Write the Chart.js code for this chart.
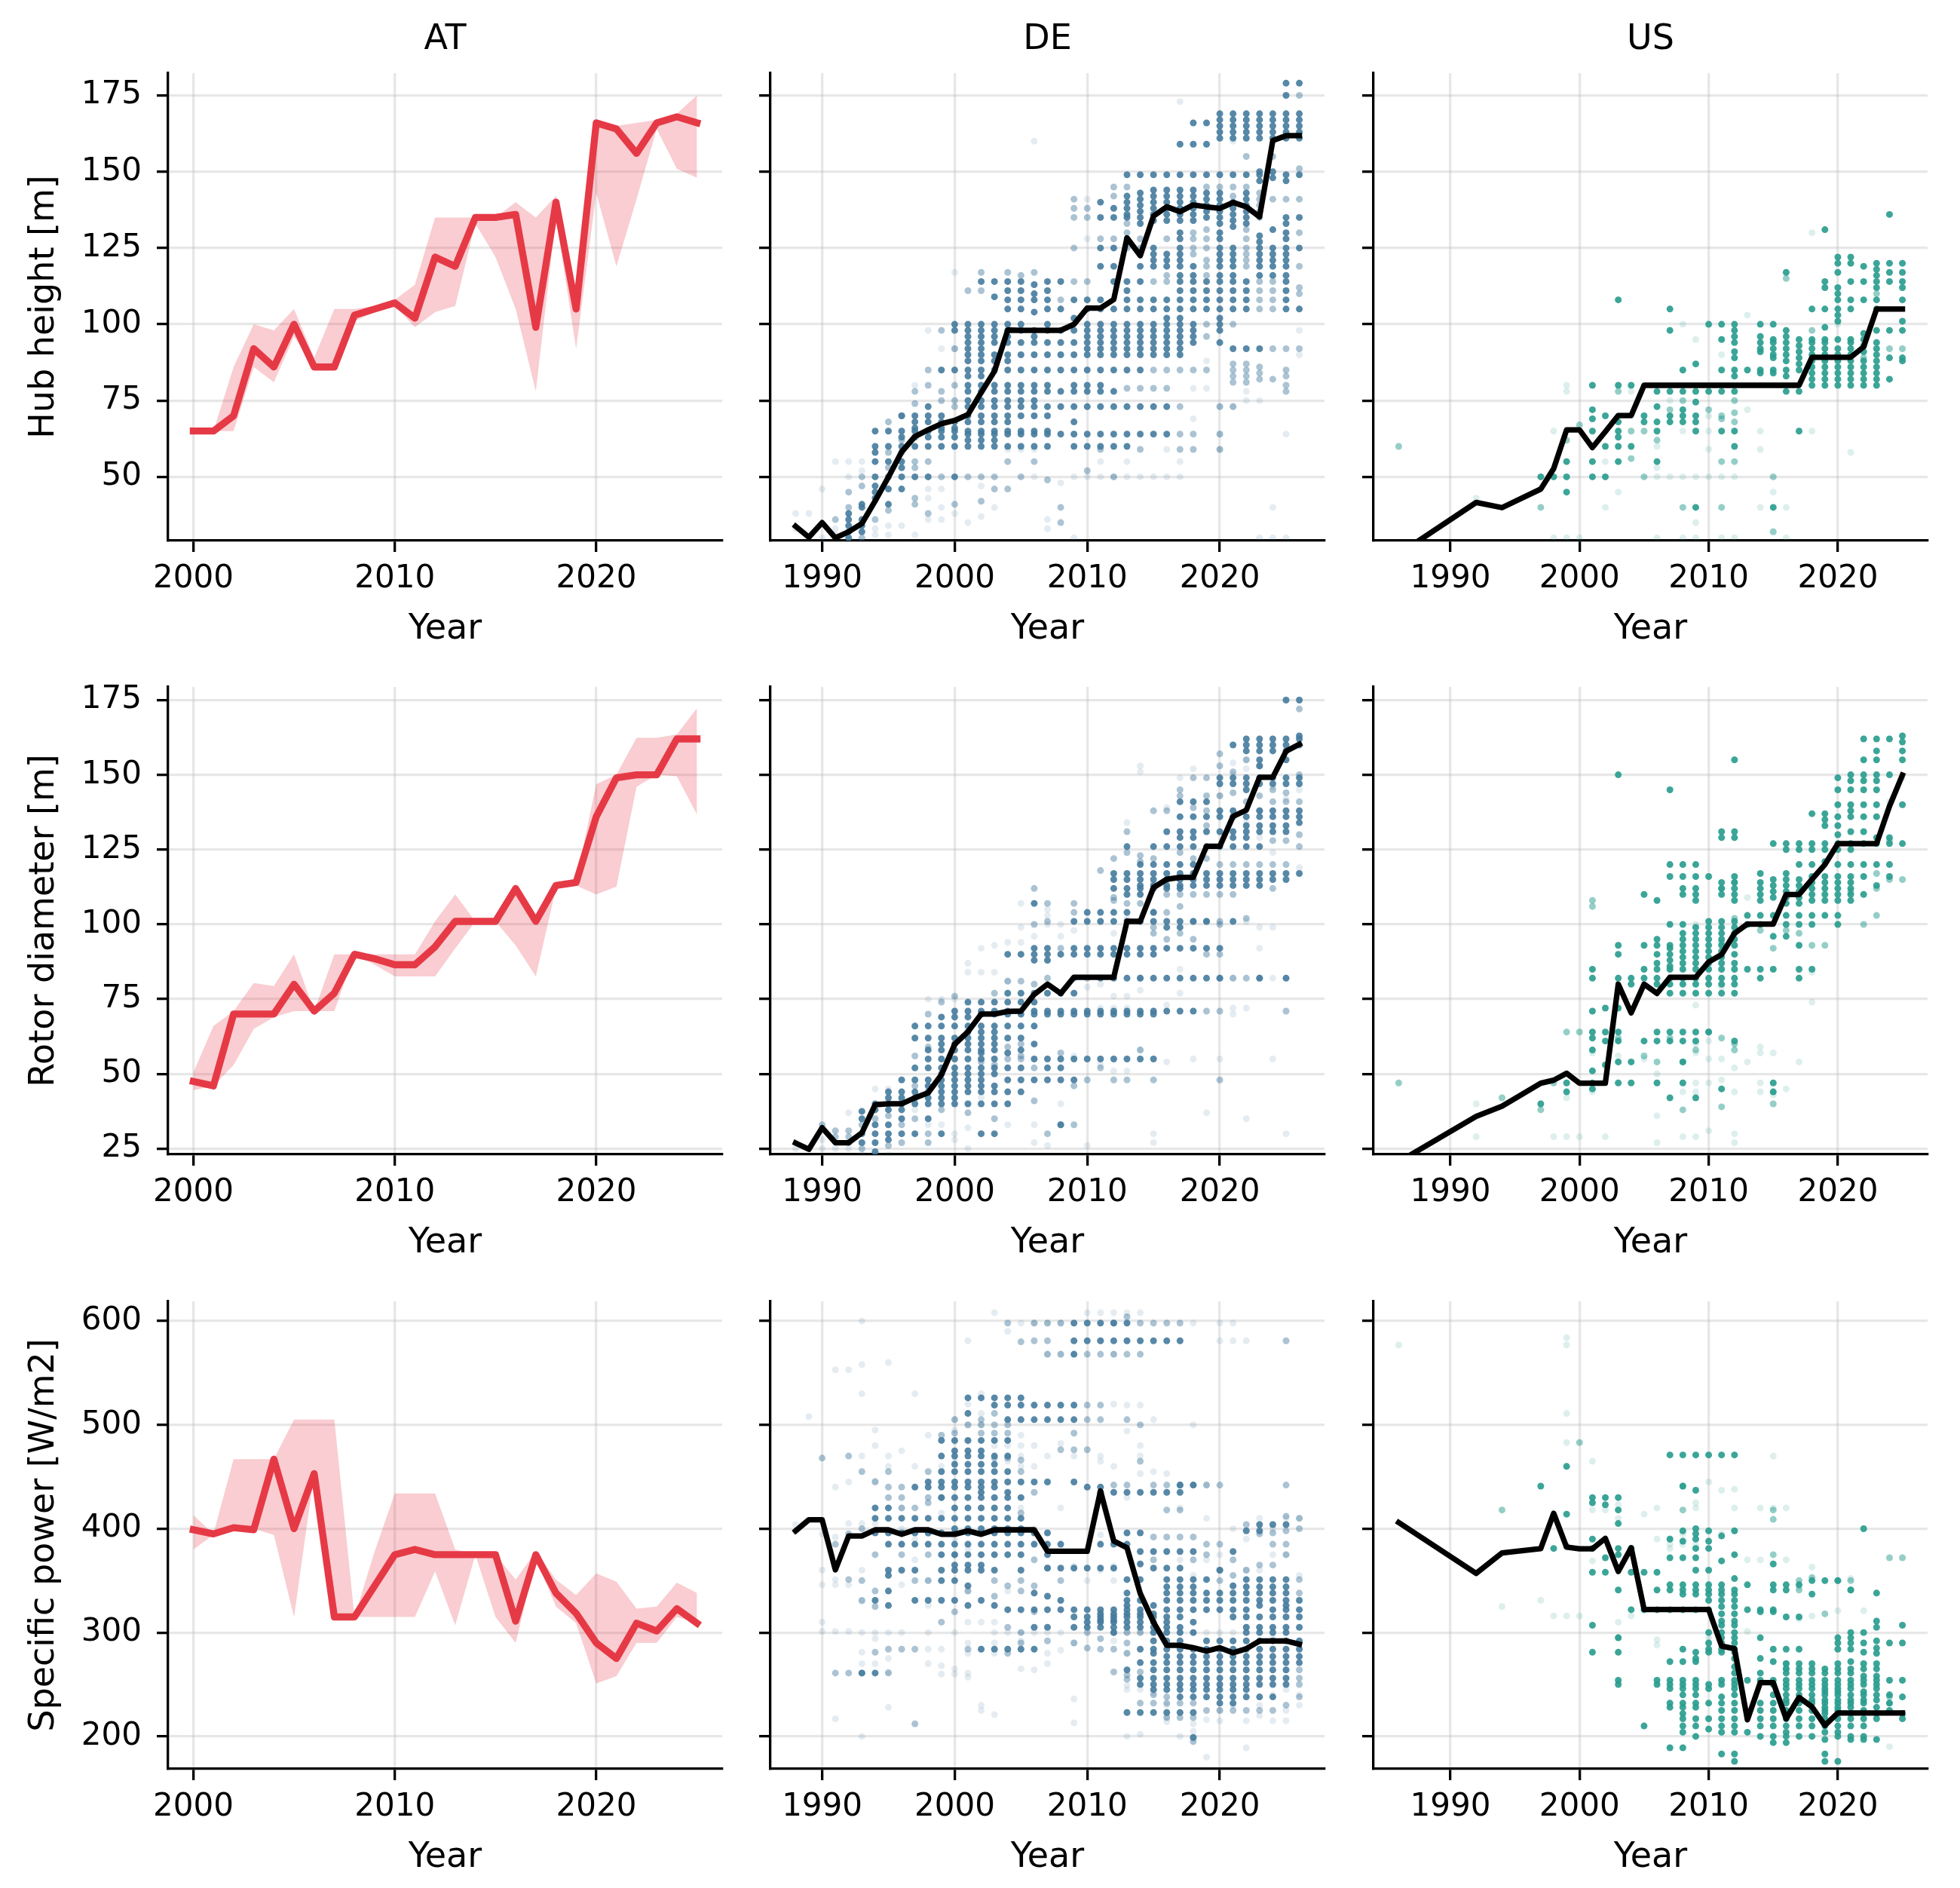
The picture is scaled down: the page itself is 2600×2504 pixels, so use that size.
<!DOCTYPE html>
<html>
<head>
<meta charset="utf-8">
<script src="https://cdn.jsdelivr.net/npm/chart.js@4.4.1/dist/chart.umd.min.js"></script>
<style>
  body{margin:0;background:#fff;width:2600px;height:2504px;position:relative;overflow:hidden}
  canvas{position:absolute}
</style>
</head>
<body>
<canvas id="p00" width="1000" height="900" style="left:0px;top:0px"></canvas>
<canvas id="p01" width="1000" height="900" style="left:799px;top:0px"></canvas>
<canvas id="p02" width="1000" height="900" style="left:1599px;top:0px"></canvas>
<canvas id="p10" width="1000" height="900" style="left:0px;top:814px"></canvas>
<canvas id="p11" width="1000" height="900" style="left:799px;top:814px"></canvas>
<canvas id="p12" width="1000" height="900" style="left:1599px;top:814px"></canvas>
<canvas id="p20" width="1000" height="900" style="left:0px;top:1629px"></canvas>
<canvas id="p21" width="1000" height="900" style="left:799px;top:1629px"></canvas>
<canvas id="p22" width="1000" height="900" style="left:1599px;top:1629px"></canvas>
<script>
// ---- AT: median line + band
const atYears = [2000,2001,2002,2003,2004,2005,2006,2007,2008,2009,2010,2011,2012,2013,2014,2015,2016,2017,2018,2019,2020,2021,2022,2023,2024,2025]
const atHub   = [65,65,70,92,86,100,86,86,103,105,107,102,122,119,135,135,136,99,140,105,166,164,156,166,168,166]
const atHubLo = [65,65,65,86,81,96,86,86,101,104,106,99,104,106,133,122,105,78,135,92,143,119,141,164,151,148]
const atHubHi = [65,65,86,100,98,105,89,105,105,106,108,113,135,135,135,135,140,135,142,110,166,165,166,167,169,175]
const atRotor   = [47.5,46,70,70,70,80,71,77,90,88.5,86.5,86.5,92.5,101,101,101,112,101,113,114,136,149,150,150,162,162]
const atRotorLo = [44.5,46,53,65,69,71,71,71,90,86.5,82.6,82.6,82.6,92,101,101,93,82.6,112,113,110,112.6,146,150,149.5,136.7]
const atRotorHi = [50.4,66,71,80.4,79.4,90,71,90,90,90,90,90,101,110,101,101,112,101,113,114.7,146.9,150,162.4,162.4,163.5,172.3]
const atSp   = [399,395,401,399,467,400,453,315,315,345,375,380,375,375,375,375,311,375,338,318.5,290,275,309,301.5,323,309]
const atSpLo = [380,394,400,400,394,315,453,315,315,315,315,315,359,307,375,315,290,371,325,309,251,258,290,290,315,309]
const atSpHi = [413,395,467,467,467,505,505,505,315,378,434,434,434,380,375,375,351,378,351,336,357,349,323,325,348,338]

// ---- DE / US medians
const deYears = [1988,1989,1990,1991,1992,1993,1994,1995,1996,1997,1998,1999,2000,2001,2002,2003,2004,2005,2006,2007,2008,2009,2010,2011,2012,2013,2014,2015,2016,2017,2018,2019,2020,2021,2022,2023,2024,2025,2026]
const deHubMedian = [33.8,30.2,35,30,32,34.7,42.1,49.9,58.2,63.2,65.4,67.4,68.5,70.4,77.6,84.6,98.1,98,98,98,98,100,105.3,105.3,108.1,128.3,122.5,135.5,138.5,136.9,139.1,138.5,138,139.9,138.5,135.2,160.2,161.8,161.8]
const deRotorMedian = [26.9,24.8,32,27,27,30.3,39.7,40,40,42,43.7,49.7,59.9,64.1,70,70,70.9,71,76.6,80,76.9,82.3,82.3,82.3,82.3,101,101,112.3,115.1,115.7,115.7,126.1,126.1,136.1,138.2,149.2,149.2,157.9,160.2]
const deSpMedian = [397.9,408.6,408.6,360.4,393,393,398.9,398.9,394.6,398.9,398.9,394.6,394.6,397.9,394.6,398.9,398.9,398.9,398.9,378.3,378.3,378.3,378.3,436.3,388.1,381.6,337.6,309.9,287.7,287.7,285.4,282.2,285.4,280.5,284.4,291.9,291.9,291.9,288.7]
const usYears = [1986,1992,1994,1997,1998,1999,2000,2001,2002,2003,2004,2005,2006,2007,2008,2009,2010,2011,2012,2013,2014,2015,2016,2017,2018,2019,2020,2021,2022,2023,2024,2025]
const usHubMedian = [24.7,41.6,39.9,46,52.7,65.4,65.4,59.6,64.8,70.1,70.1,80,80,80,80,80,80,80,80,80,80,80,80,80,89.2,89.2,89.2,89.2,92.6,105,105,105]
const usRotorMedian = [20.6,35.8,39.2,46.9,47.9,50.2,46.9,46.9,46.9,80,70.4,80,76.9,82.3,82.3,82.3,87.4,89.9,97,100.1,100.1,100.1,110,110,115.1,120,127,127,127,127,139.5,149.9]
const usSpMedian = [406,357,376.7,380.9,414.8,382.2,380.6,380.6,390.7,358.8,381.6,322.2,322.2,322.2,322.2,322.2,322.2,287,284.4,216,251.8,251.8,217,237.5,228.4,210.5,222.5,222.5,222.5,222.5,222.5,222.5]

// ---- DE turbines: [year, values], split by how dense the dots look
const deHubDark = [
  [1992,[38,36,34,32,30]],[1993,[41,40,36,34,32]],[1994,[65,60,58,55,50,47,45,43]],[1995,[65,60,55,50,46,41]],
  [1996,[70,65,63,60,55,53,50,46]],[1997,[70,68,66,65,63,60,50]],[1998,[73,70,68,65,63,60,50]],[1999,[85,70,68,66,65,63,60]],
  [2000,[100,98,85,68,66,65,63,60,50]],
  [2001,[100,98,96,94,92,90,88,85,83,80,78,75,73,70,68,65,64,62,60]],
  [2002,[114,100,98,96,94,92,90,88,85,83,80,78,75,73,70,68,65,64,62,60]],
  [2003,[114,109,100,98,96,94,90,88,85,80,78,75,73,70,68,65,64,62,60]],
  [2004,[114,111,108,105,100,98,96,94,90,88,85,80,78,75,73,70,68,65,64,60]],
  [2005,[114,111,108,105,100,98,94,90,85,80,78,75,73,70,65,64,60]],
  [2006,[113,110,108,104,98,96,94,90,85,80,78,75,73,70,65,64,60]],
  [2007,[114,111,108,105,100,98,94,90,85,80,78,73,70,65,64,60]],
  [2008,[114,105,98,94,90,85,78,73,64]],
  [2009,[108,102,98,94,90,85,80,78,73,68,64,60]],
  [2010,[108,105,100,98,96,94,92,90,85,80,78,73,64,60]],
  [2011,[140,135,125,119,108,105,100,98,96,94,92,90,85,80,78,73,64,60]],
  [2012,[138,135,125,119,114,105,100,98,96,94,92,90,85,78,73,64,60]],
  [2013,[149,142,140,138,136,135,114,111,108,105,100,98,96,94,92,90,85,73,64,60]],
  [2014,[149,143,141,139,137,135,133,119,114,108,105,100,98,96,94,92,90,85,73,64]],
  [2015,[149,144,142,140,138,136,134,125,123,121,119,108,105,100,98,96,94,92,90,73,64]],
  [2016,[149,144,142,140,138,136,134,123,121,119,108,105,102,100,98,96,94,92,90,73,64]],
  [2017,[159,149,144,142,140,138,136,134,130,128,125,123,121,119,116,114,111,108,105,102,100,98,96,94,92,90]],
  [2018,[166,159,149,144,142,140,138,136,134,119,116,114,111,108,105,100,98,96,94]],
  [2019,[166,159,149,143,141,139,137,135,114,111,108,105]],
  [2020,[169,167,165,163,161,149,143,141,139,137,135,133,130,128,125,123,121,119,116,114,111,108,105,102,100,98,94]],
  [2021,[169,167,165,163,161,149,140,138,136,134,132,125,123,121,119,116,114,111,108,105,92]],
  [2022,[169,167,165,163,161,149,143,141,139,137,135,133,114,111,108,105,92]],
  [2023,[169,167,165,163,161,150,149,147,129,127,125,123,121,119,116,92]],
  [2024,[169,167,165,163,161,150,148,131,125,123,121,119,116]],
  [2025,[179,175,169,167,165,163,161,149,147,135,133,130,128,125,123,121,119,116,114,111,108,105]],
  [2026,[179,169,167,165,163,161,149,135,125,105]]
]
const deHubMid = [
  [1991,[36]],[1992,[40,45]],[1993,[50,47,30]],[1994,[36]],[1995,[68,58,53,39]],[1996,[70,58,62]],
  [1997,[78,74,55,53,43,41]],[1998,[85,80,55,38]],[1999,[98,78,75,50]],[2000,[92,80,75,73,41]],
  [2001,[111,50]],[2002,[117,111,50,42]],[2003,[50,46]],[2004,[117,55,46]],[2005,[116,50]],[2006,[117,55]],
  [2007,[49]],[2008,[108,40,35]],[2009,[141,138,135,125,114]],[2010,[138,135,114,52]],[2011,[128,59]],
  [2012,[145,142,128,50]],[2013,[145,133,130,128,125,79]],[2014,[128,125,123,79,59]],[2015,[114,85,79]],
  [2016,[128,116,114,85,79]],[2017,[85,73,64,59]],[2018,[130,128,125,123,85,64,59]],
  [2019,[145,131,128,125,121,119,116,100,96,85]],[2020,[145,73,64,59]],[2021,[145,142,100,87,85,83,81,73]],
  [2022,[155,145,131,128,125,123,121,119,87,85,83,81]],[2023,[143,141,139,137,135,114,111,108,105,86,84,82]],
  [2024,[155,141,114,111,108,105,92,82]],[2025,[141,92,85,83,80,78]],[2026,[175,151,141,130,119,112,110,92]]
]
const deHubFaint = [
  [1988,[38,33]],[1989,[38,30]],[1990,[46,30]],[1991,[55,33,31]],[1992,[55,50]],[1993,[55,52]],[1994,[33,31]],
  [1995,[34,31]],[1996,[34]],[1997,[80,31]],[1998,[98,46,43,36]],[1999,[92,46,40,36]],[2000,[117,92,38]],
  [2001,[35]],[2002,[47,37]],[2003,[40]],[2004,[59]],[2005,[59]],[2006,[160,59,50]],[2007,[36,33]],[2008,[48]],
  [2009,[50,30]],[2010,[141,128,50]],[2011,[55,50]],[2012,[50]],[2013,[55,50]],[2014,[50]],[2015,[50]],
  [2016,[59,50]],[2017,[173,55,50]],[2018,[79,69]],[2019,[88,79]],[2020,[73,64,59]],[2021,[160,73]],
  [2022,[78,75]],[2023,[75,30]],[2024,[40,30]],[2025,[64,30]],[2026,[98,90]]
]

const deRotorDark = [
  [1993,[37.5,35,30,27]],[1994,[40,38,33,30,27,24]],[1995,[44,42,40,38,33,30,28]],[1996,[48,44,42,40,38,35,30]],
  [1997,[66,62,52,48,44,42,40,30]],[1998,[66,62,58,55,52,48,46,44,42,40,35]],
  [1999,[69,66,62,60,58,55,52,50,48,46,44,42,40,30]],[2000,[71,69,66,62,60,58,55,52,50,48,46,44,42,40]],
  [2001,[74,71,69,66,64,62,60,58,55,52,50,48,46,44,40]],[2002,[74,71,70,66,64,62,60,58,57,55,52,50,48,46,44,40,30]],
  [2003,[74,71,70,66,64,62,60,58,55,52,50,46,44,40,30]],[2004,[90,77,74,71,70,66,62,57,52,48,44,40]],
  [2005,[90,77,74,70,66,62,58,52,48,44]],[2006,[107,92,90,88,77,74,71,70,66,60,55,48]],
  [2007,[92,90,88,77,71,70,55,52,48]],[2008,[90,77,71,70,55,52,48,33]],[2009,[101,92,90,77,71,70,55,48]],
  [2010,[104,101,92,90,71,70,55]],[2011,[104,101,92,90,82,71,70,55]],[2012,[117,115,112,104,101,92,90,82,71,70,55]],
  [2013,[126,117,115,112,110,104,101,92,90,82,71,70,55]],[2014,[120,117,115,113,112,110,101,92,90,82,71,70,55]],
  [2015,[126,120,117,115,113,112,104,101,92,90,82,71,70,55]],[2016,[131,126,120,117,115,113,112,101,99,92,82,71]],
  [2017,[141,136,131,129,126,120,117,115,113,112,101,99,92,82,71]],[2018,[141,136,131,129,126,120,117,115,113,101,92,82,71]],
  [2019,[141,136,131,126,117,115,113,101,92,82]],[2020,[149,147,138,136,131,126,117,115,113,92,82]],
  [2021,[160,149,147,138,136,131,129,126,117,115,113,101]],[2022,[162,160,158,149,147,145,136,133,131,129,126,117,115,113]],
  [2023,[162,160,158,155,153,149,147,138,136,133,131,126,117,115,113,82]],[2024,[162,160,158,149,147,138,136,133,131,117,115]],
  [2025,[175,162,160,158,155,149,147,138,136,133,131,117,115,82]],[2026,[175,163,162,160,149,147,138,136,134,117]]
]
const deRotorMid = [
  [1990,[33]],[1991,[31,29]],[1992,[31,29,27]],[1993,[33,25]],[1994,[35]],[1995,[36,26]],[1996,[33,27]],
  [1997,[56,46,35]],[1998,[70,59,30,27]],[1999,[74,38]],[2000,[76]],[2001,[37]],[2002,[54]],[2003,[77,53,35]],
  [2004,[81,59,55]],[2005,[81,60,56,55]],[2006,[112,100,80,52,41]],[2007,[107,101,82,30]],[2008,[92,57,33]],
  [2009,[107,104,82,46,33]],[2010,[82,48]],[2011,[118,52]],[2012,[122,109,108,48]],[2013,[131,124,107,48]],
  [2014,[123,121,107,82,58]],[2015,[138,122,104,99,97,48]],[2016,[138,110,104,95]],[2017,[145,143,124,110,106,97]],
  [2018,[149,139,122,110,101,95]],[2019,[149,143,138,133,122,110,101,90,71]],[2020,[157,153,143,120,110,101,100,90,82,71,48]],
  [2021,[151,144,120,110,82]],[2022,[155,141,120,102,82]],[2023,[153,143,138,120,82]],[2024,[145,141,128,120,112]],
  [2025,[144,141,128,120,71]],[2026,[172,150,141,130,126]]
]
const deRotorFaint = [
  [1988,[27,25]],[1989,[25]],[1990,[28,25]],[1991,[25]],[1992,[37,25]],[1993,[23]],[1994,[45,23]],[1995,[45,23]],
  [1996,[41]],[1997,[38]],[1998,[75,33]],[1999,[75,45,33]],[2000,[75,30,28]],[2001,[87,84,32,25]],[2002,[92,84,42]],
  [2003,[93,84]],[2004,[94,81,33]],[2005,[107,99,94]],[2006,[96,33,27]],[2007,[105,103,100,88,26]],[2008,[100,96,40]],
  [2009,[98,56]],[2010,[79,26]],[2011,[101,80,72,53]],[2012,[97,76,72,51]],[2013,[134,102,76,72,51]],
  [2014,[153,151,78,58]],[2015,[114,71,30,27]],[2016,[139,73,54]],[2017,[149,85,77]],[2018,[152,55]],[2019,[101,37]],
  [2020,[143,55]],[2021,[154,150,82,72,70]],[2022,[155,152,134,101,72,35]],[2023,[129,99,92]],
  [2024,[146,124,99,82,55]],[2025,[142,82,30]],[2026,[145,119]]
]

const deSpDark = [
  [1993,[261]],[1994,[420,410,396,331,261]],[1995,[420,410,396,385,360,355,340,326]],[1996,[410,396,385,360]],
  [1997,[440,410,396,385,360,331]],[1998,[445,440,410,396,385,331]],
  [1999,[485,470,455,445,440,430,410,396,385,375,360,350,331]],
  [2000,[485,475,470,462,455,445,440,430,420,410,400,396,385,375,365,360,350,331]],
  [2001,[526,511,485,475,470,462,455,445,440,430,420,410,400,396,385,375,365,360,345,326]],
  [2002,[526,485,475,470,462,455,445,440,435,430,420,410,400,396,385,375,365,360,331,284]],
  [2003,[526,519,485,470,462,455,445,440,430,420,410,400,396,385,375,360,326,284]],
  [2004,[526,519,505,485,470,455,445,435,430,420,410,400,396,385,375,322,284]],
  [2005,[526,519,505,445,430,410,400,396,385,375,360,322,284]],
  [2006,[519,505,445,396,385,338,322,305,284]],[2007,[519,505,445,396,385,375,362,335,322,305]],
  [2008,[519,505,385,362,331,322]],[2009,[598,581,568,519,505,445,362,322,315,305]],
  [2010,[598,581,440,362,322,315,310,305]],[2011,[598,581,440,435,385,362,322,318,315,312,310,305]],
  [2012,[598,581,435,385,362,322,318,315,312,310,305,300]],
  [2013,[598,581,435,396,385,351,338,331,326,322,318,315,310,305,264,223]],
  [2014,[581,435,396,378,366,351,331,322,318,315,310,305,284,271,256,250,223]],
  [2015,[581,435,378,362,326,318,315,310,305,300,292,284,280,271,264,256,250,245,223]],
  [2016,[581,435,378,362,351,344,338,331,322,315,310,305,300,292,284,277,271,264,256,250,245,223]],
  [2017,[581,442,435,378,362,351,344,338,331,322,315,305,300,292,284,277,271,264,256,250,245,238,223]],
  [2018,[442,378,351,344,338,331,322,310,300,284,277,271,264,256,250,245,238,223,199]],
  [2019,[351,338,331,322,292,284,277,271,264,256,250,245,238]],
  [2020,[360,338,331,322,292,284,277,271,264,256,250,245,238,232]],
  [2021,[378,345,338,331,322,315,292,284,277,271,264,256,250,245,238,232]],
  [2022,[398,351,344,338,331,322,315,305,300,292,284,277,271,264,256,250,245,238]],
  [2023,[404,398,351,344,338,331,326,315,305,300,292,284,277,271,264,256,250,238]],
  [2024,[404,351,344,338,331,322,315,305,300,292,284,277,271,264,256,250,238]],
  [2025,[404,351,344,338,331,326,322,315,305,300,292,284,277,271,264,256,250]],
  [2026,[331,322,315,305,292,284,277,271]]
]
const deSpMid = [
  [1990,[468]],[1991,[385,261]],[1992,[470,395,351,261]],[1993,[455,400,350,331,261]],[1994,[445,375,340,325,281]],
  [1995,[455,440,430,284,261]],[1996,[440,430,420,375,284]],[1997,[420,350,284,212]],[1998,[455,430,425,375,350]],
  [1999,[490,430,310]],[2000,[505,492,375,320]],[2001,[500,340,284]],[2002,[505,500,492]],[2003,[511,500,492,468,350,335]],
  [2004,[598,500,492,468,345,305,280]],[2005,[580,466,455,415,350,340,300,290]],[2006,[598,581,435,370,345,320]],
  [2007,[598,581,568,362,292]],[2008,[598,568,476,350]],[2009,[492,476,290]],[2010,[568,519,505,476,300,285]],
  [2011,[568,519,505,294,284]],[2012,[598,568,442,300,284,262]],[2013,[604,568,505,442,300,290,280,259,255]],
  [2014,[598,568,500,465,300,262,232]],[2015,[598,442,392,370,240,232]],[2016,[598,442,418,392,238,232,218]],
  [2017,[598,442,418,392,232,218]],[2018,[442,392,370,232,218,195]],[2019,[442,385,375,225]],[2020,[442,385,360,350,225]],
  [2021,[370,355,225]],[2022,[404,360,225]],[2023,[395,365,225]],[2024,[396,385,365,225]],[2025,[581,442,412,398,385,375,230]],
  [2026,[410,400,351,338,264,256,250,238]]
]
const deSpFaint = [
  [1988,[404,398]],[1989,[508]],[1990,[395,360,346,310,301]],[1991,[553,440,392,351,346,301,217]],
  [1992,[553,445,405,346,301]],[1993,[600,558,530,470,405,360,330,300,281,270,200]],[1994,[495,480,446,405,300,294,270]],
  [1995,[560,470,460,300,275,262,228]],[1996,[475,420,400,385,346,300]],[1997,[530,460,390,370]],
  [1998,[490,395,350,326,300,284,270]],[1999,[460,415,284,268,260]],[2000,[505,495,484,465,420,390,300,265,260]],
  [2001,[581,520,500,484,380,340,310,290,280,261,257]],[2002,[530,511,500,420,310,230,225]],
  [2003,[608,480,420,310,300,290,280,221]],[2004,[590,505,480,465,340,300]],[2005,[598,505,490,480,470,460,420,300,292,265]],
  [2006,[598,480,460,400,300,264]],[2007,[598,568,470,380,300,280,270]],[2008,[598,568,482,420,300,283]],
  [2009,[568,470,364,290,236,213]],[2010,[608,350]],[2011,[608,581,470,465,394,360]],[2012,[608,568,520,460,364,350,292]],
  [2013,[608,581,519,494,430,300,280,249,245,200]],[2014,[608,519,480,470,453,300,245,202]],[2015,[505,455,300,242]],
  [2016,[453,300,230,219,214]],[2017,[442,420,370,300,200]],[2018,[598,500,355,300,212,205,198]],[2019,[442,410,370,300,216,180]],
  [2020,[598,581,375,300,225,215]],[2021,[598,581,400,345,300,230]],[2022,[581,390,360,305,215,189]],
  [2023,[410,360,305,230,220]],[2024,[400,375,295,240,215]],[2025,[410,375,245,225,215]],[2026,[410,355,240,230]]
]

// ---- US turbines
const usHubDark = [
  [1997,[50]],[1998,[50]],[1999,[55,50,45]],[2001,[80,72,69,65,55,50]],[2002,[70,60,50]],[2003,[108,80,68,65,63,60,55]],
  [2004,[80,60]],[2005,[70,68]],[2006,[78,73,68,65,55]],[2007,[105,98,78,70,68]],[2008,[85,78,72,70,68]],
  [2009,[87,78,74.5,70,68,65,40]],[2010,[100,78]],[2011,[100,95,85,78,65]],[2012,[100,98,96,94,91,89,85,83,78,65,60]],
  [2013,[85]],[2014,[100,96,94,92,91,85,84]],[2015,[100,95,94,92,90,89,85,84,40]],[2016,[117,98,96,94,92,90,88,85,83,78]],
  [2017,[95,93,91,89,87,85,78,65]],[2018,[105,95,94,92,90,88,86,84,82,80]],[2019,[131,114,112,105,99,95,94,92,90,88,86,84,82,80]],
  [2020,[122,120,117,112,110,108,105,103,101,95,92,90,88,86,84,82,80]],[2021,[122,120,114,108,105,95,94,92,90,88,86,84,82,80]],
  [2022,[119,114,108,97,95,93,91,88,86,84,82,80]],[2023,[120,118,116,114,112,108,105,98,94,92,90,88,86,84,82,80]],
  [2024,[136,120,117,114,98,89,82]],[2025,[120,117,114,112,108,101,98,89,88]]
]
const usHubMid = [
  [1986,[60]],[1997,[40]],[1999,[62]],[2000,[67]],[2003,[78]],[2004,[65,56]],[2005,[65,50]],[2006,[62]],[2007,[72]],
  [2008,[75,40]],[2010,[72]],[2011,[70,69,55,40]],[2012,[75,71,68,55]],[2015,[50,32]],[2016,[115]],[2018,[98]],
  [2022,[89]],[2023,[110]],[2024,[92]],[2025,[92]]
]
const usHubFaint = [
  [1992,[43]],[1998,[65,30]],[1999,[80,78,30]],[2000,[30]],[2002,[55,40]],[2003,[45]],[2004,[78]],[2006,[60,53,50,30]],
  [2007,[75,50]],[2008,[100,65,50,30]],[2009,[95,50,35,30]],[2010,[70,65,59,50]],[2011,[90,50,30]],[2012,[50,30]],
  [2013,[103,72]],[2014,[65,59,40]],[2015,[45]],[2016,[40,30]],[2018,[130,65]],[2020,[100]],[2021,[58]]
]

const usRotorDark = [
  [1997,[40]],[1999,[47,44]],[2001,[85,82,71,64,62,58,51,47,45]],[2002,[72,64,61,53]],[2003,[150,93,90,82,72,64,61,54,47]],
  [2004,[82,80,54,47]],[2005,[110,93,85,82,61]],[2006,[108,95,93,90,87,85,82,80,64,61,47]],
  [2007,[145,120,116,100,93,92,90,88,86,85,82,80,77,64,61,42]],
  [2008,[120,116,112,110,100,97,95,93,91,89,87,85,82,80,77,64,61,54,47]],
  [2009,[120,116,112,110,108,99,97,95,93,91,89,87,85,82,80,77,64,61,42]],
  [2010,[116,101,99,97,95,93,91,89,87,85,82,80,77,64]],
  [2011,[131,129,114,112,110,101,99,97,95,93,91,89,87,85,82,80,77,45]],
  [2012,[155,131,129,116,114,112,110,108,101,99,97,95,93,90,87,85,82,80,77,61]],
  [2013,[103,100,85]],[2014,[117,114,112,110,108,103,100,85,82]],[2015,[127,115,113,111,109,103,96,85,47,44]],
  [2016,[127,125,117,115,113,111,109,107,103,100,96]],[2017,[127,125,120,115,113,111,109,107,103,100,93,85,82]],
  [2018,[137,127,125,120,116,114,112,110,108,103,100,85]],[2019,[137,135,133,127,125,121,116,114,112,110,108,103]],
  [2020,[149,145,140,136,133,130,127,125,120,116,114,112,110,108,103,100]],
  [2021,[150,148,145,140,138,136,131,127,125,120,116,114,112,110,108]],
  [2022,[162,155,150,148,145,140,136,131,127,120,116,110]],[2023,[162,158,155,150,148,145,140,136,129,127,120,113]],
  [2024,[162,150,129,127,120,116]],[2025,[163,161,158,155,140,127]]
]
const usRotorMid = [
  [1986,[47]],[1994,[42]],[1997,[38]],[1998,[47]],[1999,[64]],[2000,[64]],[2001,[108,106]],[2003,[62]],[2005,[56]],
  [2006,[54]],[2007,[62]],[2008,[54,38]],[2009,[58]],[2010,[64]],[2011,[112,94,62,39]],[2012,[114,102,60,58]],
  [2014,[98]],[2015,[92,40]],[2016,[98]],[2017,[97]],[2018,[93]],[2019,[93]],[2021,[111]],[2022,[100]],
  [2023,[117,112,103]],[2024,[128,115]],[2025,[115]]
]
const usRotorFaint = [
  [1992,[40,29]],[1998,[29]],[1999,[42,29]],[2000,[29]],[2001,[57,44]],[2002,[29]],[2003,[56]],[2005,[55]],
  [2006,[50,36,27]],[2007,[85]],[2008,[44,29]],[2009,[100,73,60,57,47,44,29]],[2010,[61,55,47,31]],[2011,[79,55,48]],
  [2012,[52,44,30,27]],[2013,[109,54]],[2014,[59,57,47,44]],[2015,[57,44,43]],[2016,[45]],[2017,[54]],[2018,[84,74]],
  [2024,[141]],[2025,[149]]
]

const usSpDark = [
  [1997,[441]],[1998,[381]],[1999,[460,414,383]],[2001,[430,425,390,381,358,307,281]],[2002,[430,423,372,358]],
  [2003,[430,418,405,381,375,341,295,281,254,250]],[2004,[381,358,322]],[2005,[358,322,210]],[2006,[358,341,322,254,250]],
  [2007,[471,390,372,346,341,322,272,254,250,246,232,228,189]],
  [2008,[471,441,398,388,372,346,341,337,322,284,272,254,250,246,240,232,228,222,217,210,204,189]],
  [2009,[471,437,400,395,390,381,372,360,346,341,337,322,281,275,272,254,250,246,240,232,228,217,210,200]],
  [2010,[471,398,388,381,360,346,341,337,331,322,300,290,284,281,250,246,232,217,207]],
  [2011,[471,393,369,346,341,337,331,325,318,311,307,300,295,290,284,281,254,250,238,232,225,217,210,204,183]],
  [2012,[471,398,375,352,341,337,331,325,318,311,307,300,295,290,284,281,275,267,261,254,250,246,240,232,225,217,210,204,183,176]],
  [2013,[346,322,254,204]],[2014,[322,320,295,275,261,254,232,225,217,210,200]],
  [2015,[366,346,341,322,320,284,272,254,250,240,232,225,217,210,200,194]],
  [2016,[346,341,315,284,270,265,261,254,250,246,240,235,232,225,222,217,210,204,200,194]],
  [2017,[346,315,284,270,265,261,254,250,246,240,235,232,225,217,210,200]],
  [2018,[350,337,270,265,261,254,250,246,240,235,232,225,217,210,200]],
  [2019,[350,265,261,254,250,246,243,240,235,232,228,225,222,217,210,204,197,183,176]],
  [2020,[350,295,290,284,270,265,261,254,250,246,243,240,235,232,228,225,222,217,210,204,200,176]],
  [2021,[341,300,295,290,284,272,265,261,254,250,246,240,235,232,228,222,217,210,200,197]],
  [2022,[400,300,290,281,270,265,258,254,250,243,240,235,232,225,217,210,200,197]],
  [2023,[338,311,305,292,285,280,270,265,258,254,250,246,240,235,228,222,217,197]],
  [2024,[290,254,240,232,225]],[2025,[307,290,254,238,222,217]]
]
const usSpMid = [
  [1994,[418]],[2000,[483]],[2003,[295]],[2008,[441,418]],[2015,[418,409,375]],[2016,[270,265]],[2017,[350,341]],
  [2018,[353]],[2019,[318]],[2020,[350]],[2021,[350,341]],[2024,[372,238,232]],[2025,[372]]
]
const usSpFaint = [
  [1986,[577]],[1992,[357]],[1994,[325]],[1997,[331]],[1998,[316]],[1999,[584,577,511,483,316]],[2000,[316]],
  [2001,[465,418,369]],[2002,[418]],[2003,[423,410,375,310]],[2004,[316]],[2005,[414]],[2006,[420,390,293,288]],
  [2007,[390,385,381]],[2008,[395,385]],[2009,[425,420,384]],[2010,[445,295,289]],[2011,[437,395]],[2012,[438,420,398]],
  [2013,[370,301]],[2014,[420,370]],[2015,[470,420]],[2016,[420,370]],[2017,[344,313]],[2018,[363,316]],
  [2020,[321]],[2021,[352]],[2022,[321]],[2024,[190]]
]

// ---- axes
const atXRange = [1998.75, 2026.25], deXRange = [1986.1, 2027.9], usXRange = [1984.05, 2026.95]
const atXTicks = [2000, 2010, 2020], deXTicks = [1990, 2000, 2010, 2020]
const hubRange = [29.1, 182.3], rotorRange = [23.1, 179.4], spRange = [168.7, 618.9]
const hubTicks = [50, 75, 100, 125, 150, 175], rotorTicks = [25, 50, 75, 100, 125, 150, 175], spTicks = [200, 300, 400, 500, 600]
const countries = ['AT', 'DE', 'US']
const rowLabels = ['Hub height [m]', 'Rotor diameter [m]', 'Specific power [W/m2]']

const FONT = 'DejaVu Sans'
const RED = '#e63946', BAND = 'rgba(230,57,70,0.25)'
const BLUE = ['rgba(69,123,157,0.9)', 'rgba(69,123,157,0.45)', 'rgba(69,123,157,0.14)']
const TEAL = ['rgba(42,157,143,0.92)', 'rgba(42,157,143,0.5)', 'rgba(42,157,143,0.16)']

const pts = (xs, ys) => xs.map((x, i) => ({x, y: ys[i]}))
const cloud = rows => rows.flatMap(([yr, vals]) => vals.map(v => ({x: yr, y: v})))

function atSets(mid, lo, hi){
  return [
    { data: pts(atYears, mid), showLine: true, borderColor: RED, borderWidth: 9.3, borderJoinStyle: 'round', borderCapStyle: 'square', pointRadius: 0, order: 0, clip: 0 },
    { data: pts(atYears, lo), showLine: true, borderColor: 'rgba(0,0,0,0)', borderWidth: 1, pointRadius: 0, fill: false, order: 2 },
    { data: pts(atYears, hi), showLine: true, borderColor: 'rgba(0,0,0,0)', borderWidth: 1, pointRadius: 0, fill: '-1', backgroundColor: BAND, order: 1 }
  ]
}

function cloudSets(years, median, dark, mid, faint, cols){
  const dot = (rows, c, order) => ({ data: cloud(rows), backgroundColor: c, borderWidth: 0, pointRadius: 4.5, pointHoverRadius: 4.5, order })
  return [
    { data: pts(years, median), showLine: true, borderColor: '#000', borderWidth: 7.3, borderJoinStyle: 'round', borderCapStyle: 'square', pointRadius: 0, order: 0, clip: 0 },
    dot(dark, cols[0], 1), dot(mid, cols[1], 2), dot(faint, cols[2], 3)
  ]
}

function panel(row, col, datasets, xRange, xTicks, yRange, yTicks){
  const first = col === 0
  new Chart(document.getElementById('p' + row + col), {
    type: 'scatter',
    data: { datasets },
    options: {
      responsive: false, animation: false, devicePixelRatio: 1,
      layout: { padding: { top: row === 0 ? 0 : 97, right: 42, bottom: 0, left: 0 } },
      plugins: {
        legend: { display: false }, tooltip: { enabled: false },
        title: { display: row === 0, text: countries[col], fullSize: false, color: '#000',
                 font: { family: FONT, size: 46, weight: 'normal' }, padding: { top: 25, bottom: 16.8 } }
      },
      scales: {
        x: {
          type: 'linear', min: xRange[0], max: xRange[1],
          afterBuildTicks: s => { s.ticks = xTicks.map(v => ({value: v})) },
          afterFit: s => { s.height = 183 },
          grid: { color: 'rgba(176,176,176,0.3)', lineWidth: 3.3, tickColor: '#000', tickWidth: 3.3, tickLength: 15 },
          border: { color: '#000', width: 3.3 },
          ticks: { color: '#000', font: { family: FONT, size: 42 }, padding: 11, maxRotation: 0, callback: v => String(v) },
          title: { display: true, text: 'Year', color: '#000', font: { family: FONT, size: 46 }, padding: { top: 0, bottom: 37 } }
        },
        y: {
          type: 'linear', min: yRange[0], max: yRange[1],
          afterBuildTicks: s => { s.ticks = yTicks.map(v => ({value: v})) },
          afterFit: s => { s.width = 223 },
          grid: { color: 'rgba(176,176,176,0.3)', lineWidth: 3.3, tickColor: '#000', tickWidth: 3.3, tickLength: 15 },
          border: { color: '#000', width: 3.3 },
          ticks: { display: first, color: '#000', font: { family: FONT, size: 42 }, padding: 20, callback: v => String(v) },
          title: { display: first, text: rowLabels[row], color: '#000', font: { family: FONT, size: 46 }, padding: { top: 31, bottom: 0 } }
        }
      }
    }
  })
}

panel(0, 0, atSets(atHub, atHubLo, atHubHi), atXRange, atXTicks, hubRange, hubTicks)
panel(0, 1, cloudSets(deYears, deHubMedian, deHubDark, deHubMid, deHubFaint, BLUE), deXRange, deXTicks, hubRange, hubTicks)
panel(0, 2, cloudSets(usYears, usHubMedian, usHubDark, usHubMid, usHubFaint, TEAL), usXRange, deXTicks, hubRange, hubTicks)
panel(1, 0, atSets(atRotor, atRotorLo, atRotorHi), atXRange, atXTicks, rotorRange, rotorTicks)
panel(1, 1, cloudSets(deYears, deRotorMedian, deRotorDark, deRotorMid, deRotorFaint, BLUE), deXRange, deXTicks, rotorRange, rotorTicks)
panel(1, 2, cloudSets(usYears, usRotorMedian, usRotorDark, usRotorMid, usRotorFaint, TEAL), usXRange, deXTicks, rotorRange, rotorTicks)
panel(2, 0, atSets(atSp, atSpLo, atSpHi), atXRange, atXTicks, spRange, spTicks)
panel(2, 1, cloudSets(deYears, deSpMedian, deSpDark, deSpMid, deSpFaint, BLUE), deXRange, deXTicks, spRange, spTicks)
panel(2, 2, cloudSets(usYears, usSpMedian, usSpDark, usSpMid, usSpFaint, TEAL), usXRange, deXTicks, spRange, spTicks)
</script>
</body>
</html>
